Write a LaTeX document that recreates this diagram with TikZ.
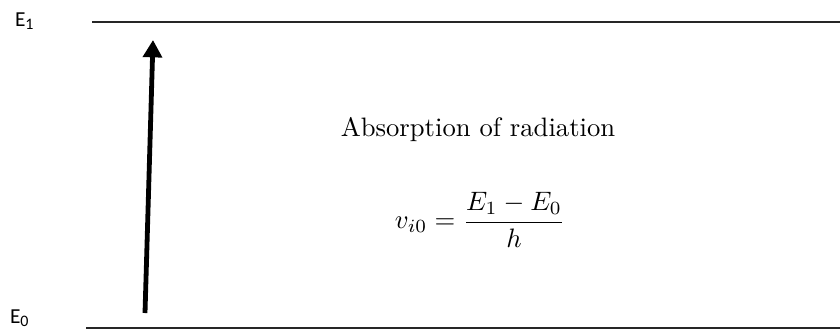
\documentclass[tikz,border=0pt]{standalone}
\usepackage{fontspec}
\newfontfamily\lblfont{Carlito}
\usetikzlibrary{arrows.meta}
\begin{document}
\begin{tikzpicture}[x=0.375pt,y=-0.375pt,
  level/.style={line width=0.75pt, draw=black!85},
  lvllabel/.style={font=\lblfont\fontsize{8}{9}\selectfont, inner sep=0pt},
  transition/.style={line width=1.8pt, -{Triangle[width=7pt,length=6.5pt]}},
  caption/.style={font=\fontsize{10}{12}\selectfont, inner sep=0pt}]
\useasboundingbox (0,0) rectangle (840,330);
\node[lvllabel] (E1) at (25,21) {E\textsubscript{1}};
\node[lvllabel] (E0) at (20,318) {E\textsubscript{0}};
\coordinate (t0) at (92,22);
\coordinate (t1) at (840,22);
\coordinate (b0) at (86,328);
\coordinate (b1) at (840,328);
\draw[level] (t0) -- (t1);
\draw[level] (b0) -- (b1);
\coordinate (aStart) at (145,313);
\coordinate (aEnd) at (153,40);
\draw[transition] (aStart) -- (aEnd);
\node[caption] (title) at (478,130) {Absorption of radiation};
\node[caption] (formula) at (480,220) {$\displaystyle v_{i0} = \frac{E_1 - E_0}{h}$};
\end{tikzpicture}
\end{document}
